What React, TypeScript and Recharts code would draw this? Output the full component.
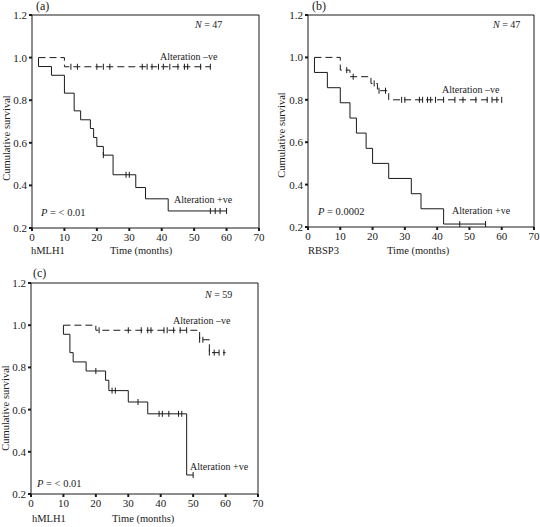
import React from "react";
import { ComposedChart, Line, Scatter, XAxis, YAxis, ReferenceLine } from "recharts";

// (a) hMLH1, N = 47
const aNegTime = [2, 10, 55];
const aNegSurv = [1.0, 0.957, 0.957];
const aNegCensor = [12, 14, 20, 22, 24, 34, 35.5, 37, 39, 40.5, 42.5, 45, 47, 48, 52, 55];
const aPosTime = [2, 2, 6, 10, 13, 15, 18, 19, 20, 22, 25, 32, 35, 42, 60];
const aPosSurv = [1.0, 0.958, 0.917, 0.833, 0.75, 0.708, 0.667, 0.625, 0.583, 0.542, 0.45, 0.39, 0.337, 0.28, 0.28];
const aPosCensor = [22, 29, 30, 55, 56.5, 58, 60];

// (b) RBSP3, N = 47
const bNegTime = [2, 10, 13, 19.5, 21.5, 25, 60];
const bNegSurv = [1.0, 0.94, 0.909, 0.877, 0.843, 0.8, 0.8];
const bNegCensor = [12, 14, 20.5, 22, 24, 29, 30, 34.5, 35.5, 37, 38, 39.5, 42, 45.5, 48, 52, 55.5, 57, 58.5, 60];
const bPosTime = [2, 2, 6, 10, 13, 15, 18, 20, 25, 32, 35, 42, 55];
const bPosSurv = [1.0, 0.929, 0.857, 0.786, 0.714, 0.643, 0.571, 0.5, 0.429, 0.357, 0.286, 0.214, 0.214];
const bPosCensor = [47, 55];

// (c) hMLH1, N = 59
const cNegTime = [10, 20, 52, 55, 60];
const cNegSurv = [1.0, 0.976, 0.931, 0.87, 0.87];
const cNegCensor = [21, 30, 34, 36, 37, 41, 42, 44, 46, 48, 52, 53, 55, 56.5, 58, 59.5];
const cPosTime = [10, 10, 12, 13, 17, 23, 24, 30, 36, 48, 50];
const cPosSurv = [1.0, 0.957, 0.87, 0.826, 0.783, 0.739, 0.69, 0.636, 0.58, 0.29, 0.29];
const cPosCensor = [20, 25, 26, 33, 39.5, 40.5, 42.5, 45.5, 46.5, 50];

const xTicks = [0, 10, 20, 30, 40, 50, 60, 70];
const yTicks = [0.2, 0.4, 0.6, 0.8, 1.0, 1.2];

const FONT = "'Liberation Serif', 'DejaVu Serif', serif";
const INK = "#1a1a1a";

const toPoints = (times: number[], survs: number[]) =>
	times.map((t, i) => ({ t, s: survs[i] }));

// survival value of the step curve at time t
const survAt = (times: number[], survs: number[], t: number) => {
	let v = survs[0];
	times.forEach((tt, i) => {
		if (tt <= t) v = survs[i];
	});
	return v;
};

const censorPoints = (censor: number[], times: number[], survs: number[]) =>
	censor.map((t) => ({ t, s: survAt(times, survs, t) }));

const CensorMark = (props: any) => {
	const { cx, cy } = props;
	if (cx == null || cy == null) return null;
	return <line x1={cx} x2={cx} y1={cy - 3} y2={cy + 3} stroke={INK} strokeWidth={1} />;
};

type PanelProps = {
	left: number;
	top: number;
	width: number;
	height: number;
	margin: { top: number; right: number };
	yWidth: number;
	xHeight: number;
	negTime: number[];
	negSurv: number[];
	negCensor: number[];
	posTime: number[];
	posSurv: number[];
	posCensor: number[];
	tag: string;
	gene: string;
	nText: string;
	pText: string;
	text: {
		tag: [number, number];
		n: [number, number];
		neg: [number, number];
		pos: [number, number];
		p: [number, number];
		gene: [number, number];
		time: [number, number];
		ylab: [number, number];
	};
};

const Panel = (p: PanelProps) => {
	const tickStyle = { fontFamily: FONT, fontSize: 11, fill: INK };
	const txt = { fontFamily: FONT, fontSize: 10, fill: INK };
	const big = { ...txt, fontSize: 10.5 };
	return (
		<div style={{ position: "absolute", left: p.left, top: p.top, width: p.width, height: p.height }}>
			<ComposedChart
				width={p.width}
				height={p.height}
				margin={{ top: p.margin.top, right: p.margin.right, bottom: 0, left: 0 }}>
				<XAxis
					type='number'
					dataKey='t'
					domain={[0, 70]}
					ticks={xTicks}
					height={p.xHeight}
					tickSize={3}
					tick={tickStyle}
					axisLine={{ stroke: INK }}
					tickLine={{ stroke: INK, strokeWidth: 2 }}
				/>
				<YAxis
					type='number'
					dataKey='s'
					domain={[0.2, 1.2]}
					ticks={yTicks}
					width={p.yWidth}
					tickSize={3}
					tick={tickStyle}
					tickFormatter={(v: number) => v.toFixed(1)}
					axisLine={{ stroke: INK }}
					tickLine={{ stroke: INK, strokeWidth: 2 }}
				/>
				<ReferenceLine y={1.2} stroke={INK} />
				<ReferenceLine x={70} stroke={INK} />
				<Line
					data={toPoints(p.negTime, p.negSurv)}
					dataKey='s'
					type='stepAfter'
					stroke={INK}
					strokeWidth={1}
					strokeDasharray='7 4'
					dot={false}
					isAnimationActive={false}
				/>
				<Line
					data={toPoints(p.posTime, p.posSurv)}
					dataKey='s'
					type='stepAfter'
					stroke={INK}
					strokeWidth={1}
					dot={false}
					isAnimationActive={false}
				/>
				<Scatter
					data={censorPoints(p.negCensor, p.negTime, p.negSurv)}
					dataKey='s'
					shape={CensorMark}
					isAnimationActive={false}
				/>
				<Scatter
					data={censorPoints(p.posCensor, p.posTime, p.posSurv)}
					dataKey='s'
					shape={CensorMark}
					isAnimationActive={false}
				/>
			</ComposedChart>
			<svg
				width={p.width}
				height={p.height}
				style={{ position: "absolute", left: 0, top: 0, pointerEvents: "none" }}>
				<text x={p.text.tag[0]} y={p.text.tag[1]} style={{ ...txt, fontSize: 12 }}>
					{p.tag}
				</text>
				<text x={p.text.n[0]} y={p.text.n[1]} style={txt}>
					<tspan fontStyle='italic'>N</tspan> = {p.nText}
				</text>
				<text x={p.text.neg[0]} y={p.text.neg[1]} style={txt}>
					Alteration –ve
				</text>
				<text x={p.text.pos[0]} y={p.text.pos[1]} style={txt}>
					Alteration +ve
				</text>
				<text x={p.text.p[0]} y={p.text.p[1]} style={big}>
					<tspan fontStyle='italic'>P</tspan> = {p.pText}
				</text>
				<text x={p.text.gene[0]} y={p.text.gene[1]} style={big}>
					{p.gene}
				</text>
				<text x={p.text.time[0]} y={p.text.time[1]} style={big}>
					Time (months)
				</text>
				<text
					x={p.text.ylab[0]}
					y={p.text.ylab[1]}
					textAnchor='middle'
					dominantBaseline='central'
					transform={`rotate(-90 ${p.text.ylab[0]} ${p.text.ylab[1]})`}
					style={big}>
					Cumulative survival
				</text>
			</svg>
		</div>
	);
};

export default function App() {
	return (
		<div style={{ position: "absolute", left: 0, top: 0, width: 540, height: 527, background: "#fff" }}>
			<Panel
				left={0}
				top={0}
				width={270}
				height={260}
				margin={{ top: 15, right: 11 }}
				yWidth={32}
				xHeight={32}
				negTime={aNegTime}
				negSurv={aNegSurv}
				negCensor={aNegCensor}
				posTime={aPosTime}
				posSurv={aPosSurv}
				posCensor={aPosCensor}
				tag='(a)'
				gene='hMLH1'
				nText='47'
				pText='< 0.01'
				text={{
					tag: [36, 10],
					n: [195, 28],
					neg: [160, 60],
					pos: [174, 203],
					p: [41, 216],
					gene: [31, 254],
					time: [110, 254],
					ylab: [6, 138],
				}}
			/>
			<Panel
				left={270}
				top={0}
				width={270}
				height={260}
				margin={{ top: 15, right: 6 }}
				yWidth={38}
				xHeight={33}
				negTime={bNegTime}
				negSurv={bNegSurv}
				negCensor={bNegCensor}
				posTime={bPosTime}
				posSurv={bPosSurv}
				posCensor={bPosCensor}
				tag='(b)'
				gene='RBSP3'
				nText='47'
				pText='0.0002'
				text={{
					tag: [42, 10],
					n: [223, 28],
					neg: [172, 93],
					pos: [182, 214],
					p: [48, 215],
					gene: [38, 254],
					time: [117, 254],
					ylab: [11, 135],
				}}
			/>
			<Panel
				left={0}
				top={260}
				width={270}
				height={267}
				margin={{ top: 23, right: 12 }}
				yWidth={31}
				xHeight={33}
				negTime={cNegTime}
				negSurv={cNegSurv}
				negCensor={cNegCensor}
				posTime={cPosTime}
				posSurv={cPosSurv}
				posCensor={cPosCensor}
				tag='(c)'
				gene='hMLH1'
				nText='59'
				pText='< 0.01'
				text={{
					tag: [33, 17],
					n: [205, 38],
					neg: [173, 64],
					pos: [190, 210],
					p: [37, 227],
					gene: [32, 262],
					time: [112, 262],
					ylab: [5, 148],
				}}
			/>
		</div>
	);
}
